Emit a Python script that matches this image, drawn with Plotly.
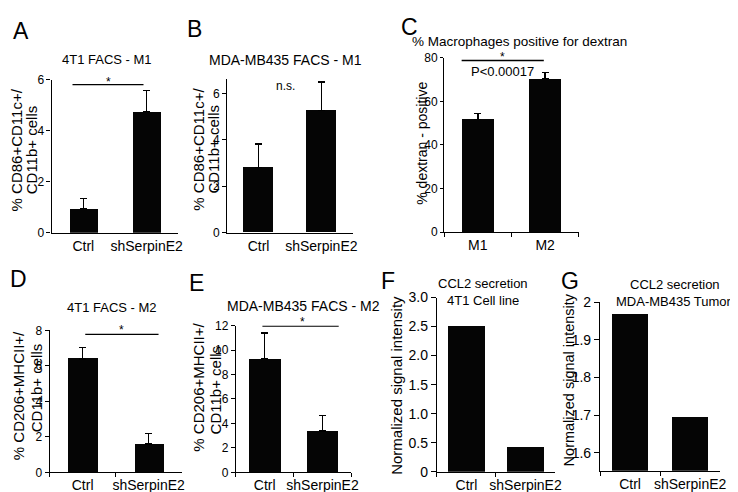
import plotly.graph_objects as go

W, H = 738, 492
FONT = "Liberation Sans, Arial, Helvetica, sans-serif"

# ---------------- data ----------------
cats_sh = ["Ctrl", "shSerpinE2"]
cats_m = ["M1", "M2"]

a_values = [0.96, 4.76]
a_err = [0.37, 0.80]
b_values = [2.80, 5.26]
b_err = [1.02, 1.23]
c_values = [51.8, 70.4]
c_err = [2.6, 2.9]
d_values = [6.40, 1.60]
d_err = [0.64, 0.58]
e_values = [9.29, 3.38]
e_err = [2.10, 1.29]
f_values = [2.52, 0.43]
g_values = [1.968, 1.696]

a_ticks = [0, 2, 4, 6]
b_ticks = [0, 2, 4, 6]
c_ticks = [0, 20, 40, 60, 80]
d_ticks = [0, 2, 4, 6, 8]
e_ticks = [0, 2, 4, 6, 8, 10, 12]
f_ticks = [0, 0.5, 1.0, 1.5, 2.0, 2.5, 3.0]
f_ticklabels = ["0", "0.5", "1.0", "1.5", "2.0", "2.5", "3.0"]
g_ticks = [1.6, 1.7, 1.8, 1.9, 2.0]
g_ticklabels = ["1.6", "1.7", "1.8", "1.9", "2"]


def px(p):
    return p / W


def py(p):
    return 1 - p / H


fig = go.Figure()

# panel layout (pixel boxes): x-left, x-right, y-top, y-bottom
panels = [
    dict(cats=cats_sh, vals=a_values, err=a_err, box=(44, 172, 65.7, 224), yr=[0, 6], tv=a_ticks, tt=None, bw=0.44, tf=12, xt=False, tl=4),
    dict(cats=cats_sh, vals=b_values, err=b_err, box=(221.3, 348, 65.6, 224), yr=[0, 6.6], tv=b_ticks, tt=None, bw=0.48, tf=12, xt=False, tl=4),
    dict(cats=cats_m, vals=c_values, err=c_err, box=(440.3, 576.3, 43.3, 223.3), yr=[0, 80], tv=c_ticks, tt=None, bw=0.48, tf=12, xt=True, tl=3),
    dict(cats=cats_sh, vals=d_values, err=d_err, box=(42, 175.3, 325, 471.7), yr=[0, 8], tv=d_ticks, tt=None, bw=0.44, tf=12, xt=True, tl=4),
    dict(cats=cats_sh, vals=e_values, err=e_err, box=(230, 346.7, 320, 471.7), yr=[0, 12], tv=e_ticks, tt=None, bw=0.54, tf=12, xt=True, tl=4),
    dict(cats=cats_sh, vals=f_values, err=None, box=(433, 552.3, 291, 471), yr=[0, 3], tv=f_ticks, tt=f_ticklabels, bw=0.63, tf=14, xt=True, tl=5),
    dict(cats=cats_sh, vals=g_values, err=None, box=(597.7, 719, 295.7, 470), yr=[1.553, 2.0], tv=g_ticks, tt=g_ticklabels, bw=0.60, tf=14, xt=True, tl=5),
]

layout_axes = {}
for i, p in enumerate(panels):
    n = "" if i == 0 else str(i + 1)
    ex = None
    if p["err"] is not None:
        ex = dict(type="data", array=p["err"], arrayminus=[0, 0], symmetric=False,
                  color="black", thickness=1.4, width=3.5)
    fig.add_trace(go.Bar(
        x=p["cats"], y=p["vals"], width=p["bw"], marker=dict(color="#050505", line=dict(width=0)),
        error_y=ex, xaxis="x" + n, yaxis="y" + n, showlegend=False, hoverinfo="x+y"))
    x0, x1, y0, y1 = p["box"]
    layout_axes["xaxis" + n] = dict(
        domain=[px(x0), px(x1)], anchor="y" + n, type="category",
        categoryorder="array", categoryarray=p["cats"], range=[-0.5, 1.5],
        showline=True, linecolor="black", linewidth=1.2, showgrid=False, zeroline=False,
        ticks="outside" if p["xt"] else "", tickson="boundaries", ticklen=4, tickwidth=1.2,
        tickangle=0, tickcolor="black", tickfont=dict(size=14, color="black", family=FONT),
        fixedrange=True)
    ydict = dict(
        domain=[py(y1), py(y0)], anchor="x" + n, range=p["yr"], tickvals=p["tv"],
        showline=True, linecolor="black", linewidth=1.2, showgrid=False, zeroline=False,
        ticks="outside", ticklen=p["tl"], tickwidth=1.2, tickcolor="black",
        tickfont=dict(size=p["tf"], color="black", family=FONT), fixedrange=True)
    if p["tt"] is not None:
        ydict["ticktext"] = p["tt"]
    layout_axes["yaxis" + n] = ydict

fig.update_layout(**layout_axes)

# significance lines (axis coordinates)
sig_lines = [
    ("x", "y", -0.17, 0.95, 5.8),
    ("x3", "y3", -0.24, 0.98, 78.8),
    ("x4", "y4", 0.04, 1.15, 7.78),
    ("x5", "y5", -0.04, 1.28, 11.95),
]
shapes = []
for xr, yr, xa, xb, yv in sig_lines:
    shapes.append(dict(type="line", xref=xr, yref=yr, x0=xa, x1=xb, y0=yv, y1=yv,
                       line=dict(color="black", width=1.3)))

annotations = []


def ann(text, x, y, size, xref="paper", yref="paper", angle=0, **kw):
    d = dict(text=text, x=x, y=y, xref=xref, yref=yref, showarrow=False,
             font=dict(size=size, color="black", family=FONT), textangle=angle,
             xanchor="center", yanchor="middle")
    d.update(kw)
    annotations.append(d)


# significance labels
ann("*", px(101.7), py(68), 12)
ann("n.s.", 0.43, 6.33, 12, xref="x2", yref="y2")
ann("*", px(499), py(42.5), 12)
ann("P<0.00017", 0.36, 73.9, 13, xref="x3", yref="y3")
ann("*", px(114.3), py(324.5), 12)
ann("*", px(297), py(316.5), 12)

# panel letters
for letter, lx, ly in [("A", 13, 16), ("B", 188, 13), ("C", 405, 11), ("D", 11, 272),
                       ("E", 190, 276), ("F", 384, 274), ("G", 567, 274)]:
    ann(letter, px(lx), py(ly), 23)

# panel titles
ann("4T1 FACS - M1", px(100), py(45), 13)
ann("MDA-MB435 FACS - M1", px(280), py(45), 14)
ann("% Macrophages positive for dextran", px(516), py(26.5), 13.5)
ann("4T1 FACS - M2", px(105), py(301), 13)
ann("MDA-MB435 FACS - M2", px(298), py(300), 14)
ann("CCL2 secretion", px(480), py(277), 13)
ann("4T1 Cell line", px(480), py(294), 13)
ann("CCL2 secretion", px(673), py(278), 13)
ann("MDA-MB435 Tumor", px(672), py(295), 13)

# y axis titles
ann("% CD86+CD11c+/", px(9), py(138), 15, angle=-90)
ann("CD11b+ cells", px(24), py(138), 15, angle=-90)
ann("% CD86+CD11c+/", px(192), py(138), 15, angle=-90)
ann("CD11b+ cells", px(207), py(138), 15, angle=-90)
ann("% dextran - positive", px(418), py(132), 14, angle=-90)
ann("% CD206+MHCII+/", px(10), py(392), 15, angle=-90)
ann("CD11b+ cells", px(29), py(384), 15, angle=-90)
ann("% CD206+MHCII+/", px(192), py(384), 15, angle=-90)
ann("CD11b+ cells", px(209), py(387), 15, angle=-90)
ann("Normalized signal intensity", px(392), py(382), 15, angle=-90)
ann("Normalized signal intensity", px(566), py(376), 14.5, angle=-90)

fig.update_layout(
    width=W, height=H, margin=dict(l=0, r=0, t=0, b=0),
    paper_bgcolor="white", plot_bgcolor="white",
    font=dict(family=FONT, color="black"),
    shapes=shapes, annotations=annotations, showlegend=False, bargap=0,
)

fig.write_html("out.html")
